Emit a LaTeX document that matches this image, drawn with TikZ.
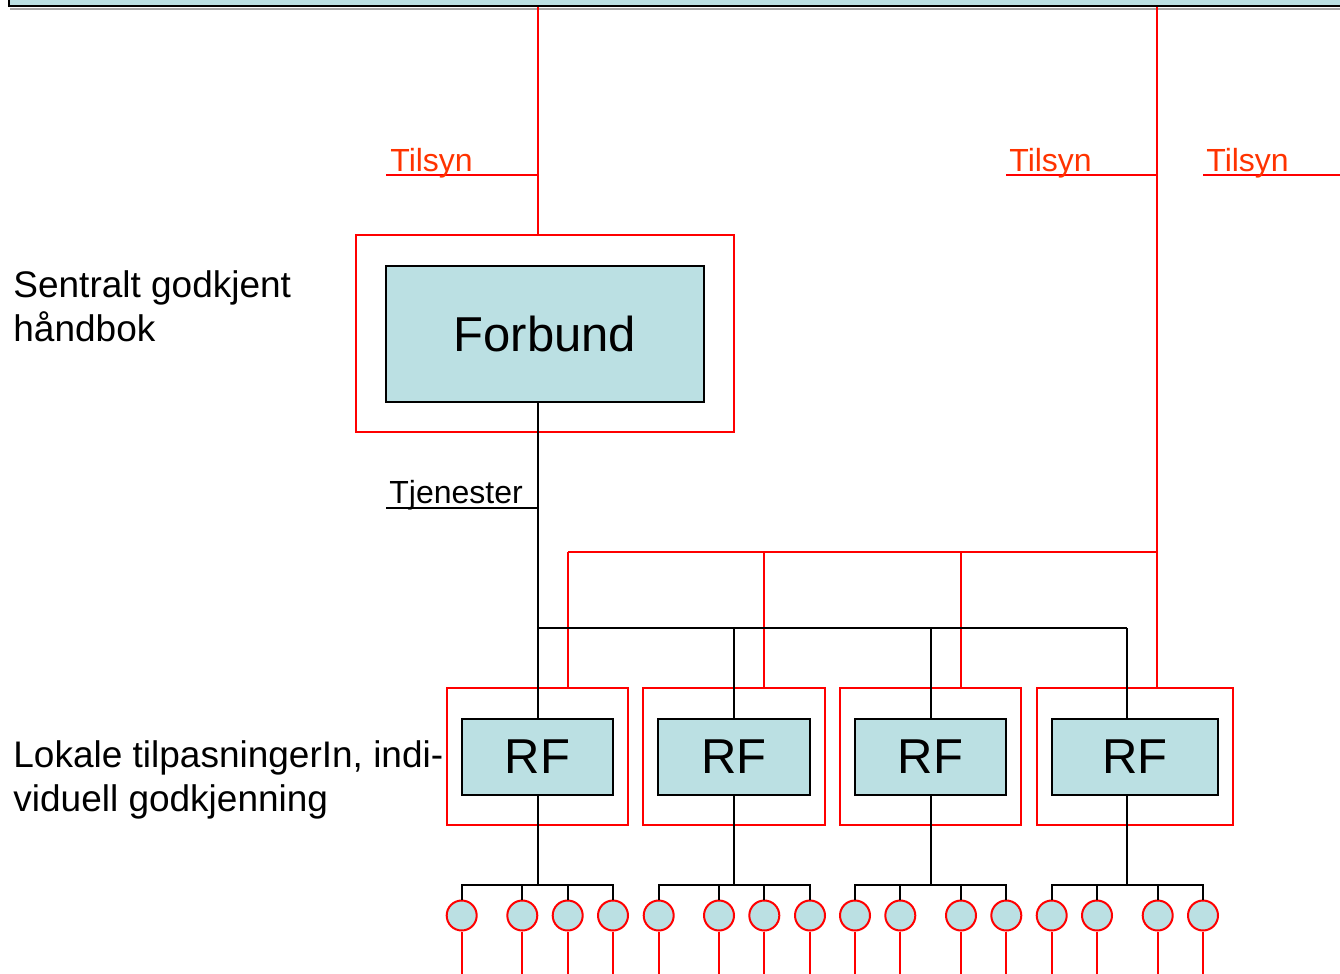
\documentclass[tikz,border=0pt]{standalone}
\usepackage{fontspec}
\setmainfont{Liberation Sans}
\definecolor{boxblue}{HTML}{BBE0E3}
\definecolor{tilsyn}{HTML}{FF3300}
\begin{document}
\begin{tikzpicture}[x=0.5pt,y=-0.5pt,
  redl/.style={draw=red, line width=1pt},
  blk/.style={draw=black, line width=1pt},
  bluebox/.style={draw=black, line width=1pt, fill=boxblue, inner sep=0pt, rectangle},
  redframe/.style={draw=red, line width=1pt, inner sep=0pt, rectangle},
  unit/.style={circle, draw=red, line width=1pt, fill=boxblue, inner sep=0pt, minimum size=15pt},
  redlbl/.style={text=tilsyn, font=\fontsize{16pt}{19pt}\selectfont, inner sep=0pt, anchor=base west},
  blklbl/.style={text=black, font=\fontsize{16pt}{19pt}\selectfont, inner sep=0pt, anchor=base west},
  sidelbl/.style={font=\fontsize{18.5pt}{22pt}\selectfont, inner sep=0pt, anchor=base west},
  bigtxt/.style={font=\fontsize{24.5pt}{29pt}\selectfont}
]
\useasboundingbox (0,0) rectangle (1340,974);
% top bar
\draw[gray!70, line width=1pt] (10,9.5) -- (1360,9.5);
\node[bluebox, minimum width=676pt, minimum height=20pt, anchor=south west] (top) at (8,7.5) {};
% Forbund
\node[redframe, minimum width=189pt, minimum height=98.5pt] (fo) at (545,333.5) {};
\node[bluebox, minimum width=159pt, minimum height=68pt, bigtxt] (fb) at (545,334) {Forbund};
% RF boxes
\node[redframe, minimum width=90.5pt, minimum height=68.5pt] (o1) at (537.5,756.5) {};
\node[redframe, minimum width=91pt, minimum height=68.5pt] (o2) at (734,756.5) {};
\node[redframe, minimum width=90.5pt, minimum height=68.5pt] (o3) at (930.5,756.5) {};
\node[redframe, minimum width=98pt, minimum height=68.5pt] (o4) at (1135,756.5) {};
\node[bluebox, minimum width=75.8pt, minimum height=38pt, bigtxt] (r1) at (537.5,757) {RF};
\node[bluebox, minimum width=76pt, minimum height=38pt, bigtxt] (r2) at (734,757) {RF};
\node[bluebox, minimum width=75.5pt, minimum height=38pt, bigtxt] (r3) at (930.5,757) {RF};
\node[bluebox, minimum width=83pt, minimum height=38pt, bigtxt] (r4) at (1135,757) {RF};
% coordinates
\coordinate (tA) at (538,175);
\coordinate (tB) at (1157,175);
\coordinate (tAl) at (386,175);
\coordinate (tBl) at (1006,175);
\coordinate (tCl) at (1203,175);
\coordinate (tCr) at (1340,175);
\coordinate (tj) at (538,508);
\coordinate (tjl) at (386,508);
\coordinate (rb0) at (568,552);
\coordinate (rb1) at (764,552);
\coordinate (rb2) at (961,552);
\coordinate (rb3) at (1157,552);
\coordinate (bb0) at (538,628);
\coordinate (bb1) at (734,628);
\coordinate (bb2) at (931,628);
\coordinate (bb3) at (1127,628);
% red supervision lines
\draw[redl] (top.south -| tA) -- (fo.north -| tA);
\draw[redl] (top.south -| tB) -- (o4.north -| tB);
\draw[redl] (tAl) -- (tA);
\draw[redl] (tBl) -- (tB);
\draw[redl] (tCl) -- (tCr);
\draw[redl] (rb0) -- (rb3);
\draw[redl] (rb0) -- (o1.north -| rb0);
\draw[redl] (rb1) -- (o2.north -| rb1);
\draw[redl] (rb2) -- (o3.north -| rb2);
\node[redlbl] (l1) at (390,171) {Tilsyn};
\node[redlbl] (l2) at (1009,171) {Tilsyn};
\node[redlbl] (l3) at (1206,171) {Tilsyn};
% black service lines
\draw[blk] (fb.south -| bb0) -- (r1.north -| bb0);
\draw[blk] (tjl) -- (tj);
\node[blklbl] (tjt) at (389,503) {Tjenester};
\draw[blk] (bb0) -- (bb3);
\draw[blk] (bb1) -- (r2.north -| bb1);
\draw[blk] (bb2) -- (r3.north -| bb2);
\draw[blk] (bb3) -- (r4.north -| bb3);
% side labels
\node[sidelbl] (s1) at (13,298) {Sentralt godkjent};
\node[sidelbl] (s2) at (13,341) {håndbok};
\node[sidelbl] (s3) at (13,767) {Lokale tilpasningerIn, indi-};
\node[sidelbl] (s4) at (13,811) {viduell godkjenning};
% units
\foreach \g/\x/\r/\a/\b/\c/\d in {1/538/r1/461.7/522.3/567.7/613,
                                  2/734/r2/658.7/719/764.3/810,
                                  3/931/r3/855/900.3/961/1006.3,
                                  4/1127/r4/1051.7/1097/1157.7/1203}{
  \coordinate (h\g) at (\x,885);
  \draw[blk] (\r.south -| h\g) -- (h\g);
  \node[unit] (c\g a) at (\a,915.5) {};
  \node[unit] (c\g b) at (\b,915.5) {};
  \node[unit] (c\g c) at (\c,915.5) {};
  \node[unit] (c\g d) at (\d,915.5) {};
  \draw[blk] (c\g a.north) -- (c\g a.north |- h\g) -- (c\g d.north |- h\g) -- (c\g d.north);
  \draw[blk] (c\g b.north |- h\g) -- (c\g b.north);
  \draw[blk] (c\g c.north |- h\g) -- (c\g c.north);
  \foreach \u in {a,b,c,d}{
    \coordinate (e\g\u) at ([yshift=-60pt]c\g\u.south);
    \draw[redl] (c\g\u.south) -- (e\g\u);
  }
}
\end{tikzpicture}
\end{document}
